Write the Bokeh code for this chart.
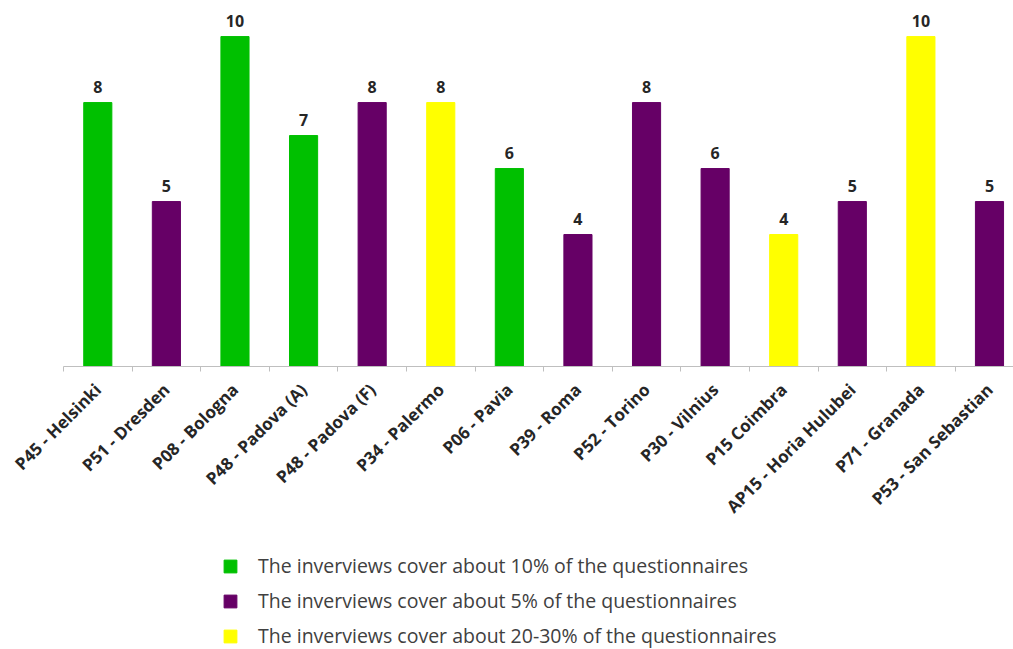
from bokeh.plotting import figure
from bokeh.layouts import column
from bokeh.models import (ColumnDataSource, Range1d, FixedTicker, LabelSet,
                          Legend, LegendItem, CDSView, GroupFilter)
from bokeh.core.properties import value
from bokeh.embed import file_html
from bokeh.resources import INLINE
import math

# Interviews per partner university
partners = ["P45 - Helsinki", "P51 - Dresden", "P08 - Bologna", "P48 - Padova (A)",
            "P48 - Padova (F)", "P34 - Palermo", "P06 - Pavia", "P39 - Roma",
            "P52 - Torino", "P30 - Vilnius", "P15 Coimbra", "AP15 - Horia Hulubei",
            "P71 - Granada", "P53 - San Sebastian"]
interviews = [8, 5, 10, 7, 8, 8, 6, 4, 8, 6, 4, 5, 10, 5]
coverage = ["10%", "5%", "10%", "10%", "5%", "20-30%", "10%", "5%",
            "5%", "5%", "20-30%", "5%", "20-30%", "5%"]

coverage_keys = ["10%", "5%", "20-30%"]
coverage_colors = ["#00C000", "#660066", "#FFFF00"]
legend_labels = ["The inverviews cover about 10% of the questionnaires",
                 "The inverviews cover about 5% of the questionnaires",
                 "The inverviews cover about 20-30% of the questionnaires"]

idx = list(range(len(partners)))
src = ColumnDataSource(dict(
    x=idx,
    top=interviews,
    cov=coverage,
    txt=[str(v) for v in interviews],
))

FONT = "Open Sans"

p = figure(width=1013, height=549, output_backend="svg", toolbar_location=None,
           x_range=Range1d(-0.5, 13.35), y_range=Range1d(0, 10.79),
           min_border_left=63, min_border_right=0, min_border_top=10,
           min_border_bottom=183)
p.outline_line_color = None
p.grid.visible = False
p.yaxis.visible = False


def class_bars(fig):
    """One bar renderer per coverage class."""
    out = []
    for key, col in zip(coverage_keys, coverage_colors):
        view = CDSView(filter=GroupFilter(column_name="cov", group=key))
        out.append(fig.vbar(x="x", top="top", width=0.41, fill_color=col,
                            line_color=col, source=src, view=view))
    return out


class_bars(p)

p.add_layout(LabelSet(x="x", y="top", text="txt", source=src, y_offset=10,
                      text_align="center", text_baseline="alphabetic",
                      text_font=value(FONT), text_font_style="bold",
                      text_font_size="16px", text_color="#262626"))

ax = p.xaxis[0]
ax.ticker = FixedTicker(ticks=idx, minor_ticks=[i - 0.5 for i in idx])
ax.major_label_overrides = {i: name for i, name in enumerate(partners)}
ax.major_label_orientation = math.pi / 4
ax.major_label_text_font = FONT
ax.major_label_text_font_style = "bold"
ax.major_label_text_font_size = "17px"
ax.major_label_text_color = "#262626"
ax.major_label_standoff = 14
ax.major_tick_line_color = None
ax.minor_tick_line_color = "#BFBFBF"
ax.minor_tick_out = 5
ax.minor_tick_in = 0
ax.axis_line_color = "#BFBFBF"
ax.axis_line_width = 1

# Legend strip under the chart; its bar renderers lie outside its visible ranges
lg = figure(width=1013, height=100, output_backend="svg", toolbar_location=None,
            x_range=Range1d(50, 51), y_range=Range1d(50, 51),
            x_axis_type=None, y_axis_type=None, min_border=0)
lg.outline_line_color = None
lg.grid.visible = False
lg_bars = class_bars(lg)
items = [LegendItem(label=lab, renderers=[r]) for lab, r in zip(legend_labels, lg_bars)]
legend = Legend(items=items, location=(159, 0), glyph_width=16, glyph_height=16,
                label_text_font=FONT, label_text_font_size="19.5px",
                label_text_color="#404040", label_standoff=20, spacing=8,
                padding=0, margin=0, border_line_color=None,
                background_fill_alpha=0)
lg.add_layout(legend, "center")

layout = column(p, lg, spacing=0)
open("out.html", "w").write(file_html(layout, INLINE))
